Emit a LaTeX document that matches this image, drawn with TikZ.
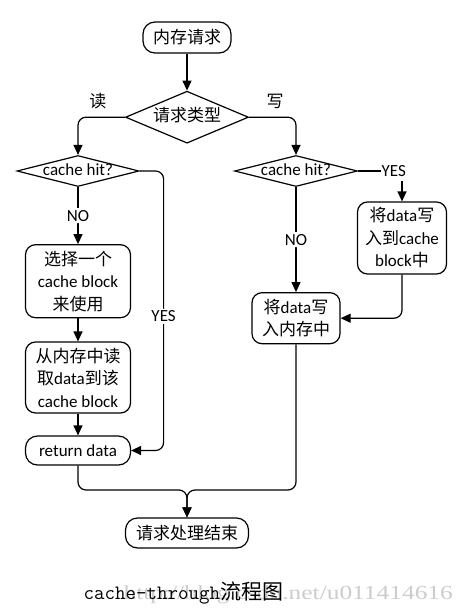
\documentclass[tikz,border=0pt]{standalone}
\usepackage{graphicx}
\usepackage{fontspec}
\setmainfont{Carlito}
\newfontfamily\zhfont{Noto Sans CJK SC}
\newfontfamily\markfont{Liberation Serif}
\newcommand\zh[1]{{\zhfont #1}}
\usetikzlibrary{positioning,shapes.geometric,arrows.meta}

\tikzset{
  every node/.style = {font=\fontsize{17}{22.5}\selectfont},
  term/.style = {draw, rounded corners=12pt, inner sep=2pt},
  stepbox/.style = {draw, rounded corners=10pt, align=center, inner sep=2pt},
  choice/.style = {draw, diamond, inner sep=0pt, text height=10pt, text depth=2pt},
  flow/.style = {-{Triangle[length=10pt,width=9pt]}, rounded corners=8pt},
  tag/.style = {fill=white, inner sep=2pt},
  side/.style = {inner sep=0pt},
}

\begin{document}
\begin{tikzpicture}[x=1pt, y=1pt, line width=1.2pt]
    \useasboundingbox (0,0) rectangle (458,-613);

    \node[term, minimum width=88pt, minimum height=31pt] (start) at (187,-37.5) {\zh{内存请求}};
    \node[choice, aspect=2.37, minimum width=123pt, minimum height=52pt,
          below = 37pt of start] (kind) {\zh{请求类型}};
    \node[side, above left = 8pt and 18pt of kind.west] (rd) {\zh{读}};
    \node[side, above right = 8pt and 17pt of kind.east] (wr) {\zh{写}};

    % read side
    \node[choice, aspect=3.9, minimum width=122pt, minimum height=31pt] (rhit) at (78,-171) {cache hit?};
    \node[stepbox, minimum width=105pt, minimum height=73pt, below = 57pt of rhit] (pick)
      {\zh{选择一个}\\cache block\\\zh{来使用}};
    \node[stepbox, minimum width=105pt, minimum height=71pt] (load) at (78,-377.5)
      {\zh{从内存中读}\\\zh{取}data\zh{到该}\\cache block};
    \node[term, minimum width=105pt, minimum height=29pt] (ret) at (78,-450.5) {return data};

    % write side
    \node[choice, aspect=3.9, minimum width=123pt, minimum height=31pt] (whit) at (296,-171) {cache hit?};
    \node[stepbox, minimum width=89pt, minimum height=72pt] (wcache) at (402,-238)
      {\zh{将}data\zh{写}\\\zh{入到}cache\\block\zh{中}};
    \node[stepbox, minimum width=88pt, minimum height=51pt, below = 105pt of whit] (wmem)
      {\zh{将}data\zh{写}\\\zh{入内存中}};

    \node[term, minimum width=123pt, minimum height=30pt] (finish) at (187,-533) {\zh{请求处理结束}};
    \coordinate (join) at (187,-490);

    \draw[flow] (start) -- (kind);
    \draw[flow] (kind.west) -| (rhit.north);
    \draw[flow] (kind.east) -| (whit.north);

    \draw[flow] (rhit.south) -- node[tag] {NO} (pick.north);
    \draw[flow] (pick) -- (load);
    \draw[flow] (load) -- (ret);
    \draw[flow] (rhit.east) -- ++(24,0) coordinate (rturn)
      -- (rturn |- ret.east) node[tag, pos=0.52] {YES} -- (ret.east);

    \draw (whit.east) -- ++(23,0) node[right, inner sep=0pt] (yes) {YES};
    \draw[flow] ([yshift=20pt]wcache.north) -- (wcache.north);
    \draw[flow] (whit.south) -- node[tag] {NO} (wmem.north);
    \draw[flow] (wcache.south) |- (wmem.east);

    \draw[flow] (ret.south) |- (join) -- (finish.north);
    \draw[flow] (wmem.south) |- (join) -- (finish.north);

    \node[anchor=base west, inner sep=0pt, text=black!20,
          font=\markfont\fontsize{20}{22}\selectfont] (mark) at (123,-599)
      {\scalebox{1.27}[1]{http://blog.csdn.net/u011414616}};
    \node[anchor=base west, inner sep=0pt, font=\ttfamily\fontsize{20.4}{24}\selectfont] (caption) at (83,-599)
      {cache-through{\zhfont\fontsize{21}{24}\selectfont 流程图}};
\end{tikzpicture}
\end{document}
